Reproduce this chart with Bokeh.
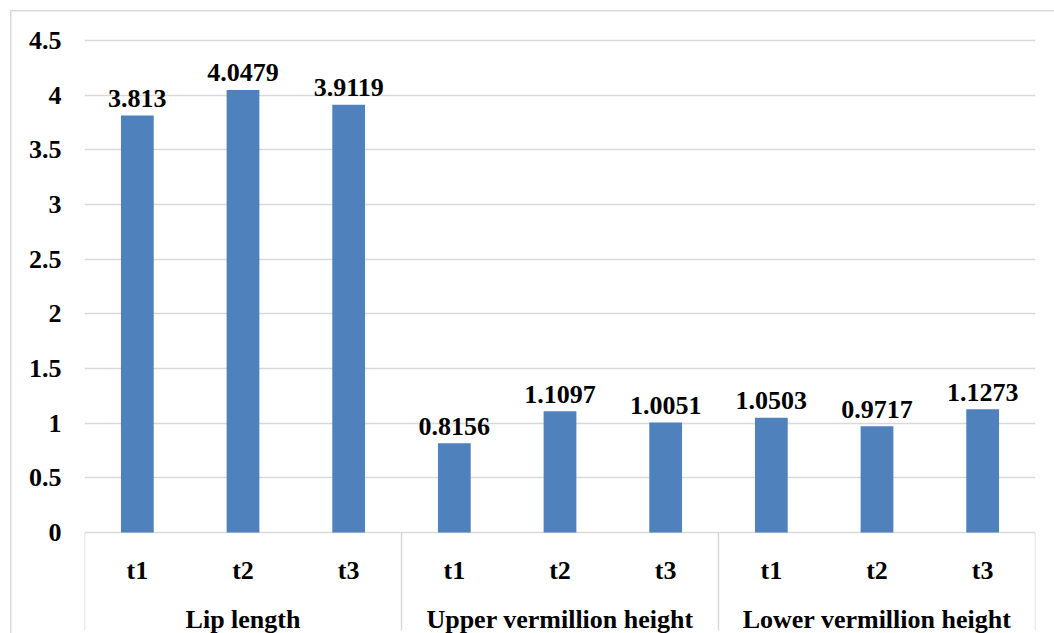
from bokeh.plotting import figure
from bokeh.models import FactorRange, ColumnDataSource, FixedTicker, NumeralTickFormatter, Range1d
from bokeh.core.properties import value
from bokeh.embed import file_html
from bokeh.resources import INLINE

# ---- data ----
groups = ["Lip length", "Upper vermillion height", "Lower vermillion height"]
times = ["t1", "t2", "t3"]
lip_length = [3.813, 4.0479, 3.9119]
upper_vermillion_height = [0.8156, 1.1097, 1.0051]
lower_vermillion_height = [1.0503, 0.9717, 1.1273]
y_ticks = [0, 0.5, 1, 1.5, 2, 2.5, 3, 3.5, 4, 4.5]

series = [lip_length, upper_vermillion_height, lower_vermillion_height]
factors = [(g, t) for g in groups for t in times]
tops = [v for s in series for v in s]
labels = [str(v) for v in tops]

# ---- geometry (pixels) ----
W, H = 1054, 633
frame_left, frame_right, frame_top = 84, W - 1035, 38
zero_px = 532                   # y=0 position in figure pixels
ppu = (532 - 40) / 4.5          # pixels per unit
y_end = (zero_px - frame_top) / ppu
y_start = -(H - zero_px) / ppu

FONT = value("Liberation Serif")
GRID = "#d9d9d9"

p = figure(
    width=W, height=H,
    x_range=FactorRange(*factors, group_padding=0, factor_padding=0,
                        subgroup_padding=0, range_padding=0),
    y_range=Range1d(y_start, y_end),
    output_backend="svg", toolbar_location=None, x_axis_location=None,
    min_border_left=frame_left, min_border_right=frame_right,
    min_border_top=frame_top, min_border_bottom=0,
)
p.styles = {"box-shadow": "inset 10px 10px 0 0 #ffffff, inset 11.5px 11.5px 0 0 #d9d9d9"}
p.border_fill_color = None
p.background_fill_color = "white"
p.outline_line_color = None

p.yaxis.ticker = FixedTicker(ticks=y_ticks)
p.yaxis.formatter = NumeralTickFormatter(format="0.[0]")
p.yaxis.axis_line_color = None
p.yaxis.major_tick_line_color = None
p.yaxis.minor_tick_line_color = None
p.yaxis.major_tick_out = 0
p.yaxis.major_tick_in = 0
p.yaxis.major_label_standoff = 23
p.yaxis.major_label_text_font = "Liberation Serif"
p.yaxis.major_label_text_font_style = "bold"
p.yaxis.major_label_text_font_size = "26px"
p.yaxis.major_label_text_color = "black"

p.ygrid.grid_line_color = GRID
p.ygrid.grid_line_width = 1.5
p.xgrid.grid_line_color = None
p.xgrid.visible = False

src = ColumnDataSource(dict(x=factors, top=tops, label=labels,
                            label_y=[t + 17 / ppu for t in tops]))
p.vbar(x="x", top="top", width=0.31, source=src, fill_color="#4F81BD", line_color=None)
p.text(x="x", y="label_y", text="label", source=src, text_align="center",
       text_baseline="alphabetic", text_font=FONT, text_font_style="bold",
       text_font_size="26px", text_color="black")

# category axis (two levels) drawn through the factor scale
sub_src = ColumnDataSource(dict(x=factors, y=[-(570 - 532) / ppu] * len(factors),
                                text=[f[1] for f in factors]))
p.text(x="x", y="y", text="text", source=sub_src, text_align="center",
       text_baseline="alphabetic", text_font=FONT, text_font_style="bold",
       text_font_size="26px", text_color="black")
grp_src = ColumnDataSource(dict(x=groups, y=[-(619 - 532) / ppu] * len(groups), text=groups))
p.text(x="x", y="y", text="text", source=grp_src, text_align="center",
       text_baseline="alphabetic", text_font=FONT, text_font_style="bold",
       text_font_size="26px", text_color="black")

bounds = [i * len(times) for i in range(len(groups) + 1)]
p.segment(x0=bounds, x1=bounds, y0=[0] * len(bounds),
          y1=[-(630 - 532) / ppu] * len(bounds),
          line_color=GRID, line_width=1.5)

open("out.html", "w").write(file_html(p, INLINE))
